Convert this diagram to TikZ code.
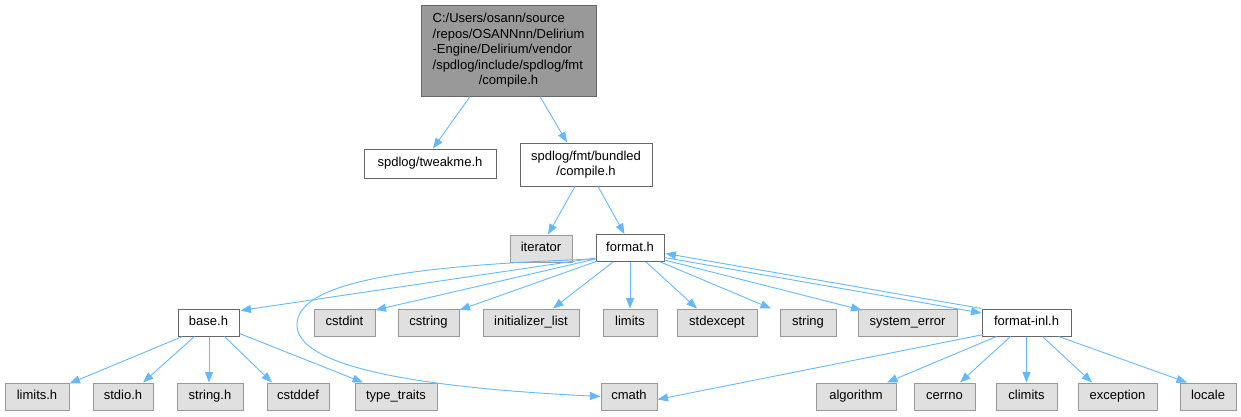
\documentclass[tikz,border=0pt]{standalone}
\usepackage{fontspec}
\setmainfont{Liberation Sans}
\usetikzlibrary{arrows.meta}
\definecolor{edgec}{HTML}{63B8FF}
\definecolor{grayfill}{HTML}{E0E0E0}
\definecolor{graydraw}{HTML}{999999}
\definecolor{darkdraw}{HTML}{666666}
\definecolor{topfill}{HTML}{999999}
\begin{document}
\begin{tikzpicture}[x=1pt,y=-1pt,
  box/.style={draw, line width=1pt, inner sep=0pt, font=\fontsize{13}{15.5}\selectfont, align=center},
  one/.style={text height=9.5pt, text depth=3pt},
  sys/.style={box, one, fill=grayfill, draw=graydraw, minimum height=27pt},
  usr/.style={box, fill=white, draw=darkdraw},
  edge/.style={draw=edgec, line width=0.9pt, -{Triangle[length=10.5pt,width=8pt]}}]
\useasboundingbox (0,0) rectangle (1241,416);

% nodes
\node[box, fill=topfill, draw=darkdraw, minimum width=175pt, minimum height=91pt] (top) at (508.5,50.5)
  {\begin{tabular}{@{}l@{}}C:/Users/osann/source\\/repos/OSANNnn/Delirium\\-Engine/Delirium/vendor\\/spdlog/include/spdlog/fmt\\\multicolumn{1}{@{}c@{}}{/compile.h}\end{tabular}};
\node[usr, one, minimum width=132pt, minimum height=29pt] (tweakme) at (430,163.5) {spdlog/tweakme.h};
\node[usr, minimum width=132pt, minimum height=43pt] (bundled) at (586,164.5) {spdlog/fmt/bundled\\/compile.h};
\node[sys, minimum width=62pt] (iterator) at (541,248.5) {iterator};
\node[usr, one, minimum width=68pt, minimum height=27pt] (format) at (630,248) {format.h};

\node[usr, one, minimum width=61pt, minimum height=27pt] (base) at (208.5,322.5) {base.h};
\node[sys, minimum width=61pt] (cstdint) at (344.5,322.5) {cstdint};
\node[sys, minimum width=61pt] (cstring) at (428.5,322.5) {cstring};
\node[sys, minimum width=96pt] (initlist) at (531,322.5) {initializer\_list};
\node[sys, minimum width=54pt] (limits) at (630,322.5) {limits};
\node[sys, minimum width=80pt] (stdexcept) at (717,322.5) {stdexcept};
\node[sys, minimum width=56pt] (string) at (808,322.5) {string};
\node[sys, minimum width=99pt] (syserr) at (907.5,322.5) {system\_error};
\node[usr, one, minimum width=89pt, minimum height=27pt] (inl) at (1026.5,322.5) {format-inl.h};

\node[sys, minimum width=64pt] (limitsh) at (37,396.5) {limits.h};
\node[sys, minimum width=60pt] (stdioh) at (123,396.5) {stdio.h};
\node[sys, minimum width=66pt] (stringh) at (210,396.5) {string.h};
\node[sys, minimum width=62pt] (cstddef) at (298,396.5) {cstddef};
\node[sys, minimum width=82pt] (typetraits) at (396,396.5) {type\_traits};
\node[sys, minimum width=56pt] (cmath) at (629,396.5) {cmath};
\node[sys, minimum width=80pt] (algorithm) at (856,396.5) {algorithm};
\node[sys, minimum width=61pt] (cerrno) at (944.5,396.5) {cerrno};
\node[sys, minimum width=61pt] (climits) at (1026.5,396.5) {climits};
\node[sys, minimum width=79pt] (exception) at (1117.5,396.5) {exception};
\node[sys, minimum width=56pt] (locale) at (1208,396.5) {locale};

% edges
\draw[edge] ([shift={(-38.5,0)}]top.south) -- ([shift={(3,0)}]tweakme.north);
\draw[edge] ([shift={(31.5,0)}]top.south) -- ([shift={(-19,0)}]bundled.north);
\draw[edge] ([shift={(-11,0)}]bundled.south) -- ([shift={(7,0)}]iterator.north);
\draw[edge] ([shift={(12,0)}]bundled.south) -- ([shift={(-5.5,0)}]format.north);

\draw[edge] ([shift={(0,-4)}]format.south west) -- ([shift={(1,2)}]base.north east);
\draw[edge] ([shift={(0,-3)}]format.south west) -- ([shift={(0,1.5)}]cstdint.north east);
\draw[edge] ([shift={(2,-1)}]format.south west) -- ([shift={(0,1.5)}]cstring.north east);
\draw[edge] ([shift={(-17,0)}]format.south) -- ([shift={(22,0)}]initlist.north);
\draw[edge] ([shift={(0,0)}]format.south) -- ([shift={(0,0)}]limits.north);
\draw[edge] ([shift={(16,0)}]format.south) -- ([shift={(-20,0)}]stdexcept.north);
\draw[edge] ([shift={(-4,0)}]format.south east) -- ([shift={(-37,0)}]string.north);
\draw[edge] ([shift={(0,-2)}]format.south east) -- ([shift={(4,1.5)}]syserr.north west);
\draw[edge] ([shift={(0,9.5)}]format.east) -- ([shift={(0,-9.5)}]inl.west);
\draw[edge] ([shift={(0,0)}]inl.north west) -- ([shift={(1,5.5)}]format.east);
\draw[edge] ([shift={(0,-3)}]format.south west) .. controls (390,266) and (297,285) .. (297,325)
  .. controls (297,375) and (470,390) .. (cmath.west);

\draw[edge] ([shift={(5,0)}]base.south west) -- ([shift={(0,1)}]limitsh.north east);
\draw[edge] ([shift={(-14,0)}]base.south) -- ([shift={(20,0)}]stdioh.north);
\draw[edge] ([shift={(0.5,0)}]base.south) -- ([shift={(-1,0)}]stringh.north);
\draw[edge] ([shift={(16,0)}]base.south) -- ([shift={(-26,0)}]cstddef.north);
\draw[edge] ([shift={(0,-3)}]base.south east) -- ([shift={(-33,0)}]typetraits.north);

\draw[edge] ([shift={(2,-2)}]inl.south west) -- ([shift={(0,3)}]cmath.east);
\draw[edge] ([shift={(-30,0)}]inl.south) -- ([shift={(31,0)}]algorithm.north);
\draw[edge] ([shift={(-16,0)}]inl.south) -- ([shift={(15.5,0)}]cerrno.north);
\draw[edge] ([shift={(0,0)}]inl.south) -- ([shift={(0,0)}]climits.north);
\draw[edge] ([shift={(16,0)}]inl.south) -- ([shift={(-25.5,0)}]exception.north);
\draw[edge] ([shift={(32,0)}]inl.south) -- ([shift={(-21,0)}]locale.north);
\end{tikzpicture}
\end{document}
